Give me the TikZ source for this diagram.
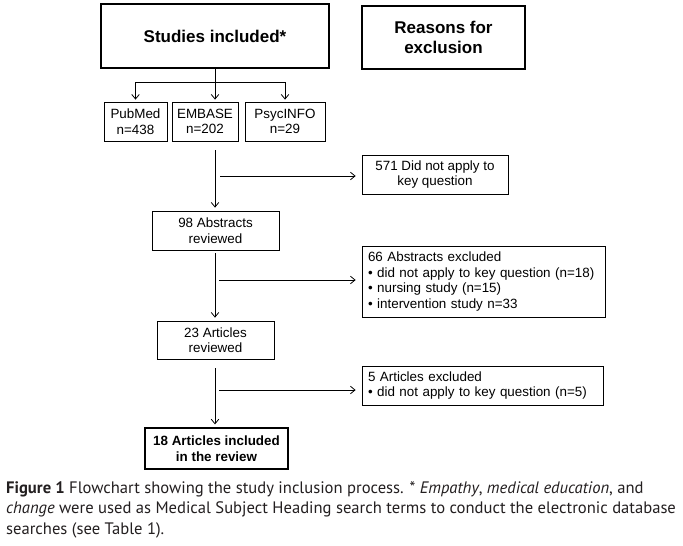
\documentclass[tikz,border=0pt]{standalone}
\usepackage{fontspec}
\setmainfont{Liberation Sans}
\newfontfamily\capfont{PT Sans}
\usetikzlibrary{arrows.meta}
\definecolor{captxt}{HTML}{231F20}
\begin{document}
\begin{tikzpicture}[x=1pt,y=-1pt,
  box/.style={draw, line width=0.8pt, inner sep=0pt, align=center, font=\fontsize{13.4}{15.5}\selectfont},
  bigbox/.style={draw, line width=2.6pt, inner sep=0pt, align=center, font=\bfseries\fontsize{17}{20}\selectfont},
  leftbox/.style={draw, line width=0.8pt, inner xsep=6pt, inner ysep=0pt, align=left, font=\fontsize{13.4}{15.7}\selectfont},
  arr/.style={-{Straight Barb[length=4.5pt,width=7.5pt]}, line width=0.8pt},
  ln/.style={line width=0.8pt}]
\useasboundingbox (0,0) rectangle (683,546);
\fill[white] (0,0) rectangle (683,546);

\node[bigbox, minimum width=228, minimum height=64] (stud) at (215,36) {Studies included*};
\node[bigbox, minimum width=163, minimum height=63] (reas) at (443.5,37.5) {Reasons for\\exclusion};

\node[box, minimum width=63, minimum height=39] (pub) at (135.5,121.5) {PubMed\\n=438};
\node[box, minimum width=66, minimum height=39] (emb) at (205,121.5) {EMBASE\\n=202};
\node[box, minimum width=80, minimum height=39] (psy) at (285,121.5) {PsycINFO\\n=29};

\node[box, minimum width=146, minimum height=39] (ex1) at (435,174.5) {571 Did not apply to\\key question};
\node[box, minimum width=127, minimum height=39] (abs) at (215.5,230.5) {98 Abstracts\\reviewed};
\node[leftbox, text width=231, minimum height=71] (ex2) at (483.5,281.5) {66 Abstracts excluded\\• did not apply to key question (n=18)\\• nursing study (n=15)\\• intervention study n=33};
\node[box, minimum width=117, minimum height=38] (art) at (215.5,340) {23 Articles\\reviewed};
\node[leftbox, text width=229, minimum height=39] (ex3) at (482.5,385.5) {5 Articles excluded\\• did not apply to key question (n=5)};
\node[box, line width=1.3pt, minimum width=143, minimum height=41, font=\bfseries\fontsize{13.4}{15.5}\selectfont] (inc) at (216.5,448.5) {18 Articles included\\in the review};

% split
\coordinate (bar) at (215,82);
\draw[ln] (stud.south -| bar) -- (bar);
\draw[ln] (bar -| pub) -- (bar -| psy);
\draw[arr, shorten >=2pt] (bar -| pub) -- (pub.north);
\draw[arr, shorten >=2pt] (bar) -- (bar |- emb.north);
\draw[arr, shorten >=2pt] (bar -| psy) -- (psy.north);

% main flow
\coordinate (s1) at (215,150);
\coordinate (s2) at (215,253);
\coordinate (s3) at (215,368);
\draw[arr, shorten >=3pt] (s1) -- (s1 |- abs.north);
\draw[arr, shorten >=3pt] (s2) -- (s2 |- art.north);
\draw[arr, shorten >=3pt] (s3) -- (s3 |- inc.north);

\coordinate (h1) at (220,176);
\coordinate (h2) at (219,280);
\coordinate (h3) at (219,390);
\draw[arr, shorten >=6pt] (h1) -- (h1 -| ex1.west);
\draw[arr, shorten >=6pt] (h2) -- (h2 -| ex2.west);
\draw[arr, shorten >=6pt] (h3) -- (h3 -| ex3.west);

\node[anchor=north west, inner sep=0pt, align=left, text=captxt, font=\capfont\fontsize{16.6}{20.6}\selectfont] (cap) at (6,481)
  {\textbf{Figure 1} Flowchart showing the study inclusion process. * \textit{Empathy}, \textit{medical education}, and\\
   \textit{change} were used as Medical Subject Heading search terms to conduct the electronic database\\
   searches (see Table 1).};
\end{tikzpicture}
\end{document}
